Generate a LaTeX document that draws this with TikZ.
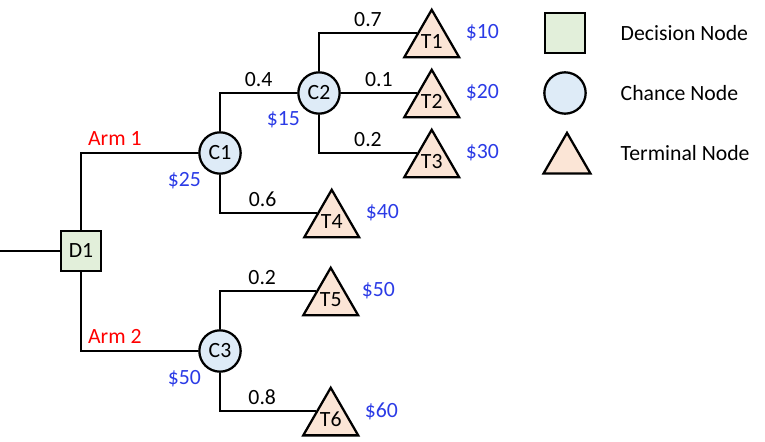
\documentclass[tikz,border=0pt]{standalone}
\usepackage{fontspec}
\setmainfont{Carlito}
\usepackage{tikz}
\usetikzlibrary{shapes.geometric,positioning}
\definecolor{decfill}{HTML}{E2EFDA}
\definecolor{chfill}{HTML}{DEEBF7}
\definecolor{termfill}{HTML}{FBE5D6}
\definecolor{payblue}{HTML}{2B3BE6}
\tikzset{
  decision/.style={draw, line width=1.7pt, fill=decfill, minimum size=30pt, inner sep=0pt},
  chance/.style={circle, draw, line width=1.7pt, fill=chfill, minimum size=31pt, inner sep=0pt},
  terminal/.style={regular polygon, regular polygon sides=3, draw, line width=1.7pt, fill=termfill, minimum size=47.6pt, inner sep=0pt},
  branch/.style={line width=1.7pt},
  prob/.style={above, inner sep=4pt},
  arm/.style={text=red, above right, inner sep=4.5pt},
  payoff/.style={text=payblue},
  chlabel/.style={label={[payoff, inner sep=2.5pt]below left:#1}},
}

\begin{document}
\begin{tikzpicture}[x=0.75pt, y=-0.75pt, font=\fontsize{16.3}{20}\selectfont]
\useasboundingbox (0,0) rectangle (765,442);
% decision and chance nodes
\node[decision] (D1) at (81,251) {D1};
\node[chance, chlabel=\$25] (C1) at (220,153) {C1};
\node[chance, chlabel=\$15] (C2) at (319,93) {C2};
\node[chance, chlabel=\$50] (C3) at (220,351) {C3};
% terminal nodes
\node[terminal, anchor=side 1] (T1) at (417,33) {T1};
\node[terminal, anchor=side 1] (T2) at (417,93) {T2};
\node[terminal, anchor=side 1] (T3) at (417,153) {T3};
\node[terminal, anchor=side 1] (T4) at (317,213) {T4};
\node[terminal, anchor=side 1] (T5) at (316,291) {T5};
\node[terminal, anchor=side 1] (T6) at (316,411) {T6};
\node[payoff, anchor=west] (v1) at (T1.corner 3 |- T1.side 1) {\$10};
\node[payoff, anchor=west] (v2) at (T2.corner 3 |- T2.side 1) {\$20};
\node[payoff, anchor=west] (v3) at (T3.corner 3 |- T3.side 1) {\$30};
\node[payoff, anchor=west] (v4) at (T4.corner 3 |- T4.side 1) {\$40};
\node[payoff, anchor=west, inner sep=1pt] (v5) at (T5.corner 3 |- T5.side 1) {\$50};
\node[payoff, anchor=west] (v6) at (T6.corner 3 |- T6.side 1) {\$60};
% branches
\coordinate (start) at (0,251);
\draw[branch] (start) -- (D1);
\draw[branch] (D1) |- (C1) node[arm, pos=.5]{Arm 1};
\draw[branch] (D1) |- (C3) node[arm, pos=.5]{Arm 2};
\draw[branch] (C1) |- (C2) node[prob, pos=.75]{0.4};
\draw[branch] (C1) |- (T4.side 1) node[prob, pos=.72]{0.6};
\draw[branch] (C2) |- (T1.side 1) node[prob, pos=.75]{0.7};
\draw[branch] (C2) -- (T2.side 1) node[prob, pos=.5]{0.1};
\draw[branch] (C2) |- (T3.side 1) node[prob, pos=.75]{0.2};
\draw[branch] (C3) |- (T5.side 1) node[prob, pos=.72]{0.2};
\draw[branch] (C3) |- (T6.side 1) node[prob, pos=.72]{0.8};
% legend
\node[decision, minimum size=30.5pt] (legD) at (565,33) {};
\node[chance] (legC) at (565,93) {};
\node[terminal, minimum size=40.7pt] (legT) at (567,160) {};
\node[anchor=west] (legDtxt) at (616,33) {Decision Node};
\node[anchor=west] (legCtxt) at (616,93) {Chance Node};
\node[anchor=west] (legTtxt) at (616,153) {Terminal Node};
\end{tikzpicture}
\end{document}
